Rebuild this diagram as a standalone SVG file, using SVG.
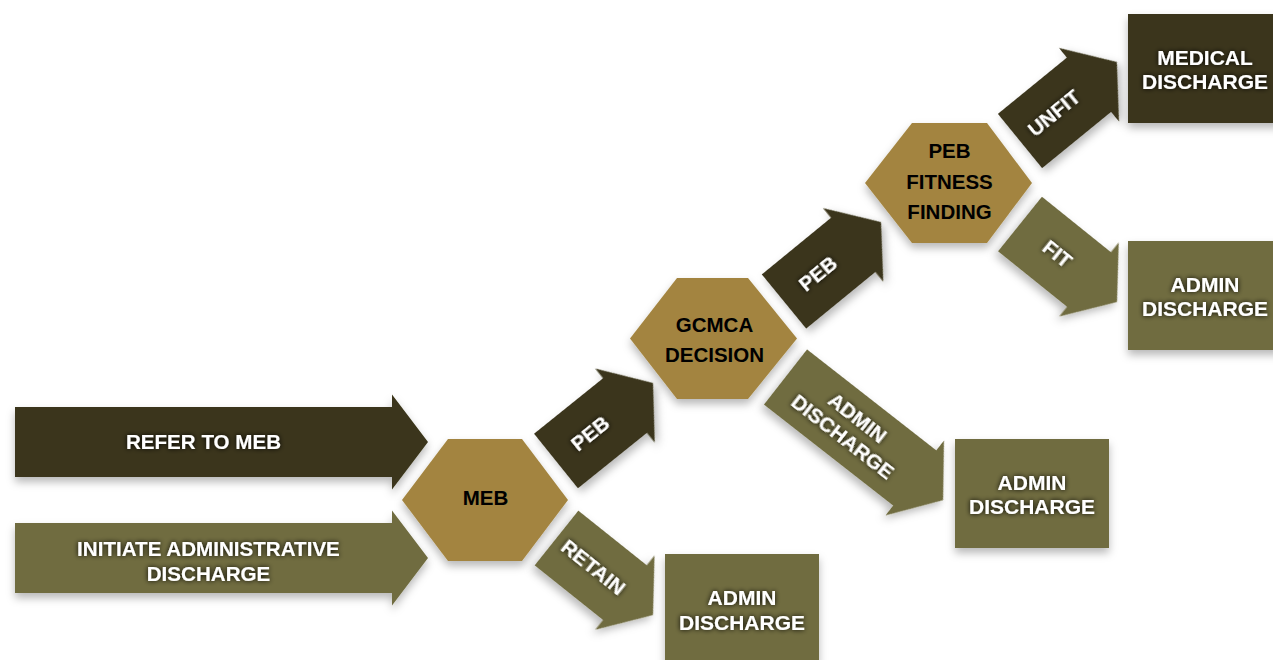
<svg xmlns="http://www.w3.org/2000/svg" width="1273" height="660" viewBox="0 0 1273 660">
<defs>
<filter id="sh" x="-20%" y="-20%" width="140%" height="150%">
<feDropShadow dx="0" dy="5" stdDeviation="4" flood-color="#000" flood-opacity="0.28"/>
</filter>
<filter id="glow" x="-30%" y="-60%" width="160%" height="220%">
<feGaussianBlur in="SourceAlpha" stdDeviation="2.8" result="b"/>
<feFlood flood-color="#000" flood-opacity="1"/>
<feComposite in2="b" operator="in" result="g"/>
<feMerge><feMergeNode in="g"/><feMergeNode in="SourceGraphic"/></feMerge>
</filter>
<style>
.dark{fill:#3b361a;}
.olive{fill:#706c40;}
.hex{fill:#a3843f;}
.s{filter:url(#sh);}
.wt{font-family:"Liberation Sans",Arial,Helvetica,sans-serif;font-weight:bold;font-size:20.6px;fill:#fff;text-anchor:middle;filter:url(#glow);}
.bt{font-family:"Liberation Sans",Arial,Helvetica,sans-serif;font-weight:bold;font-size:20.5px;fill:#000;text-anchor:middle;}
.box{font-size:21px;}
</style>
</defs>
<rect width="1273" height="660" fill="#fff"/>

<g id="connectors">
<g id="arrow-refer" transform="translate(15,442)">
<path class="dark s" d="M0,-35 H377 V-47.5 L413,0 L377,47.5 V35 H0 Z"/>
<text class="wt" x="188.5" y="7">REFER TO MEB</text>
</g>
<g id="arrow-initiate" transform="translate(15,558)">
<path class="olive s" d="M0,-35 H377 V-47.5 L413,0 L377,47.5 V35 H0 Z"/>
<text class="wt" x="193.5" y="-2">INITIATE ADMINISTRATIVE</text>
<text class="wt" x="193.5" y="23">DISCHARGE</text>
</g>
<g id="arrow-peb1" transform="translate(556,461) rotate(-38.8)">
<path class="dark s" d="M0,-35 H88.5 V-47.5 L124.5,0 L88.5,47.5 V35 H0 Z"/>
<text class="wt" x="44" y="7">PEB</text>
</g>
<g id="arrow-retain" transform="translate(556.5,538) rotate(38.6)">
<path class="olive s" d="M0,-35 H87.5 V-47.5 L123.5,0 L87.5,47.5 V35 H0 Z"/>
<text class="wt" x="47" y="7">RETAIN</text>
</g>
<g id="arrow-peb2" transform="translate(784,301.5) rotate(-39.3)">
<path class="dark s" d="M0,-35 H89.4 V-47.5 L125.4,0 L89.4,47.5 V35 H0 Z"/>
<text class="wt" x="44" y="7">PEB</text>
</g>
<g id="arrow-admin" transform="translate(785.5,377) rotate(38)">
<path class="olive s" d="M0,-35 H164 V-47.5 L200,0 L164,47.5 V35 H0 Z"/>
<text class="wt" x="82" y="-5">ADMIN</text>
<text class="wt" x="82" y="19">DISCHARGE</text>
</g>
<g id="arrow-unfit" transform="translate(1020,141) rotate(-39.2)">
<path class="dark s" d="M0,-35 H89 V-47.5 L125,0 L89,47.5 V35 H0 Z"/>
<text class="wt" x="44" y="7">UNFIT</text>
</g>
<g id="arrow-fit" transform="translate(1020,224) rotate(38.8)">
<path class="olive s" d="M0,-35 H88.5 V-47.5 L124.5,0 L88.5,47.5 V35 H0 Z"/>
<text class="wt" x="48" y="7">FIT</text>
</g>
</g>

<g id="node-meb">
<polygon class="hex s" points="448,439 522,439 568,500 522,561 448,561 402,500"/>
<text class="bt" x="485.5" y="505">MEB</text>
</g>
<g id="node-gcmca">
<polygon class="hex s" points="677,278 748,278 797,338.5 748,399 677,399 630,338.5"/>
<text class="bt" x="714.5" y="332">GCMCA</text>
<text class="bt" x="714.5" y="362">DECISION</text>
</g>
<g id="node-peb-fitness">
<polygon class="hex s" points="912,123 987,123 1032,183 987,243 912,243 865,183"/>
<text class="bt" x="949.5" y="158">PEB</text>
<text class="bt" x="949.5" y="189">FITNESS</text>
<text class="bt" x="949.5" y="219">FINDING</text>
</g>
<g id="node-medical-discharge">
<rect class="dark s" x="1128" y="14" width="154" height="109"/>
<text class="wt box" x="1205" y="65">MEDICAL</text>
<text class="wt box" x="1205" y="89">DISCHARGE</text>
</g>
<g id="node-admin-fit">
<rect class="olive s" x="1128" y="241" width="154" height="109"/>
<text class="wt box" x="1205" y="292">ADMIN</text>
<text class="wt box" x="1205" y="316">DISCHARGE</text>
</g>
<g id="node-admin-gcmca">
<rect class="olive s" x="955" y="439" width="154" height="109"/>
<text class="wt box" x="1032" y="490">ADMIN</text>
<text class="wt box" x="1032" y="514">DISCHARGE</text>
</g>
<g id="node-admin-retain">
<rect class="olive s" x="665" y="554" width="154" height="109"/>
<text class="wt box" x="742" y="605">ADMIN</text>
<text class="wt box" x="742" y="630">DISCHARGE</text>
</g>
</svg>
